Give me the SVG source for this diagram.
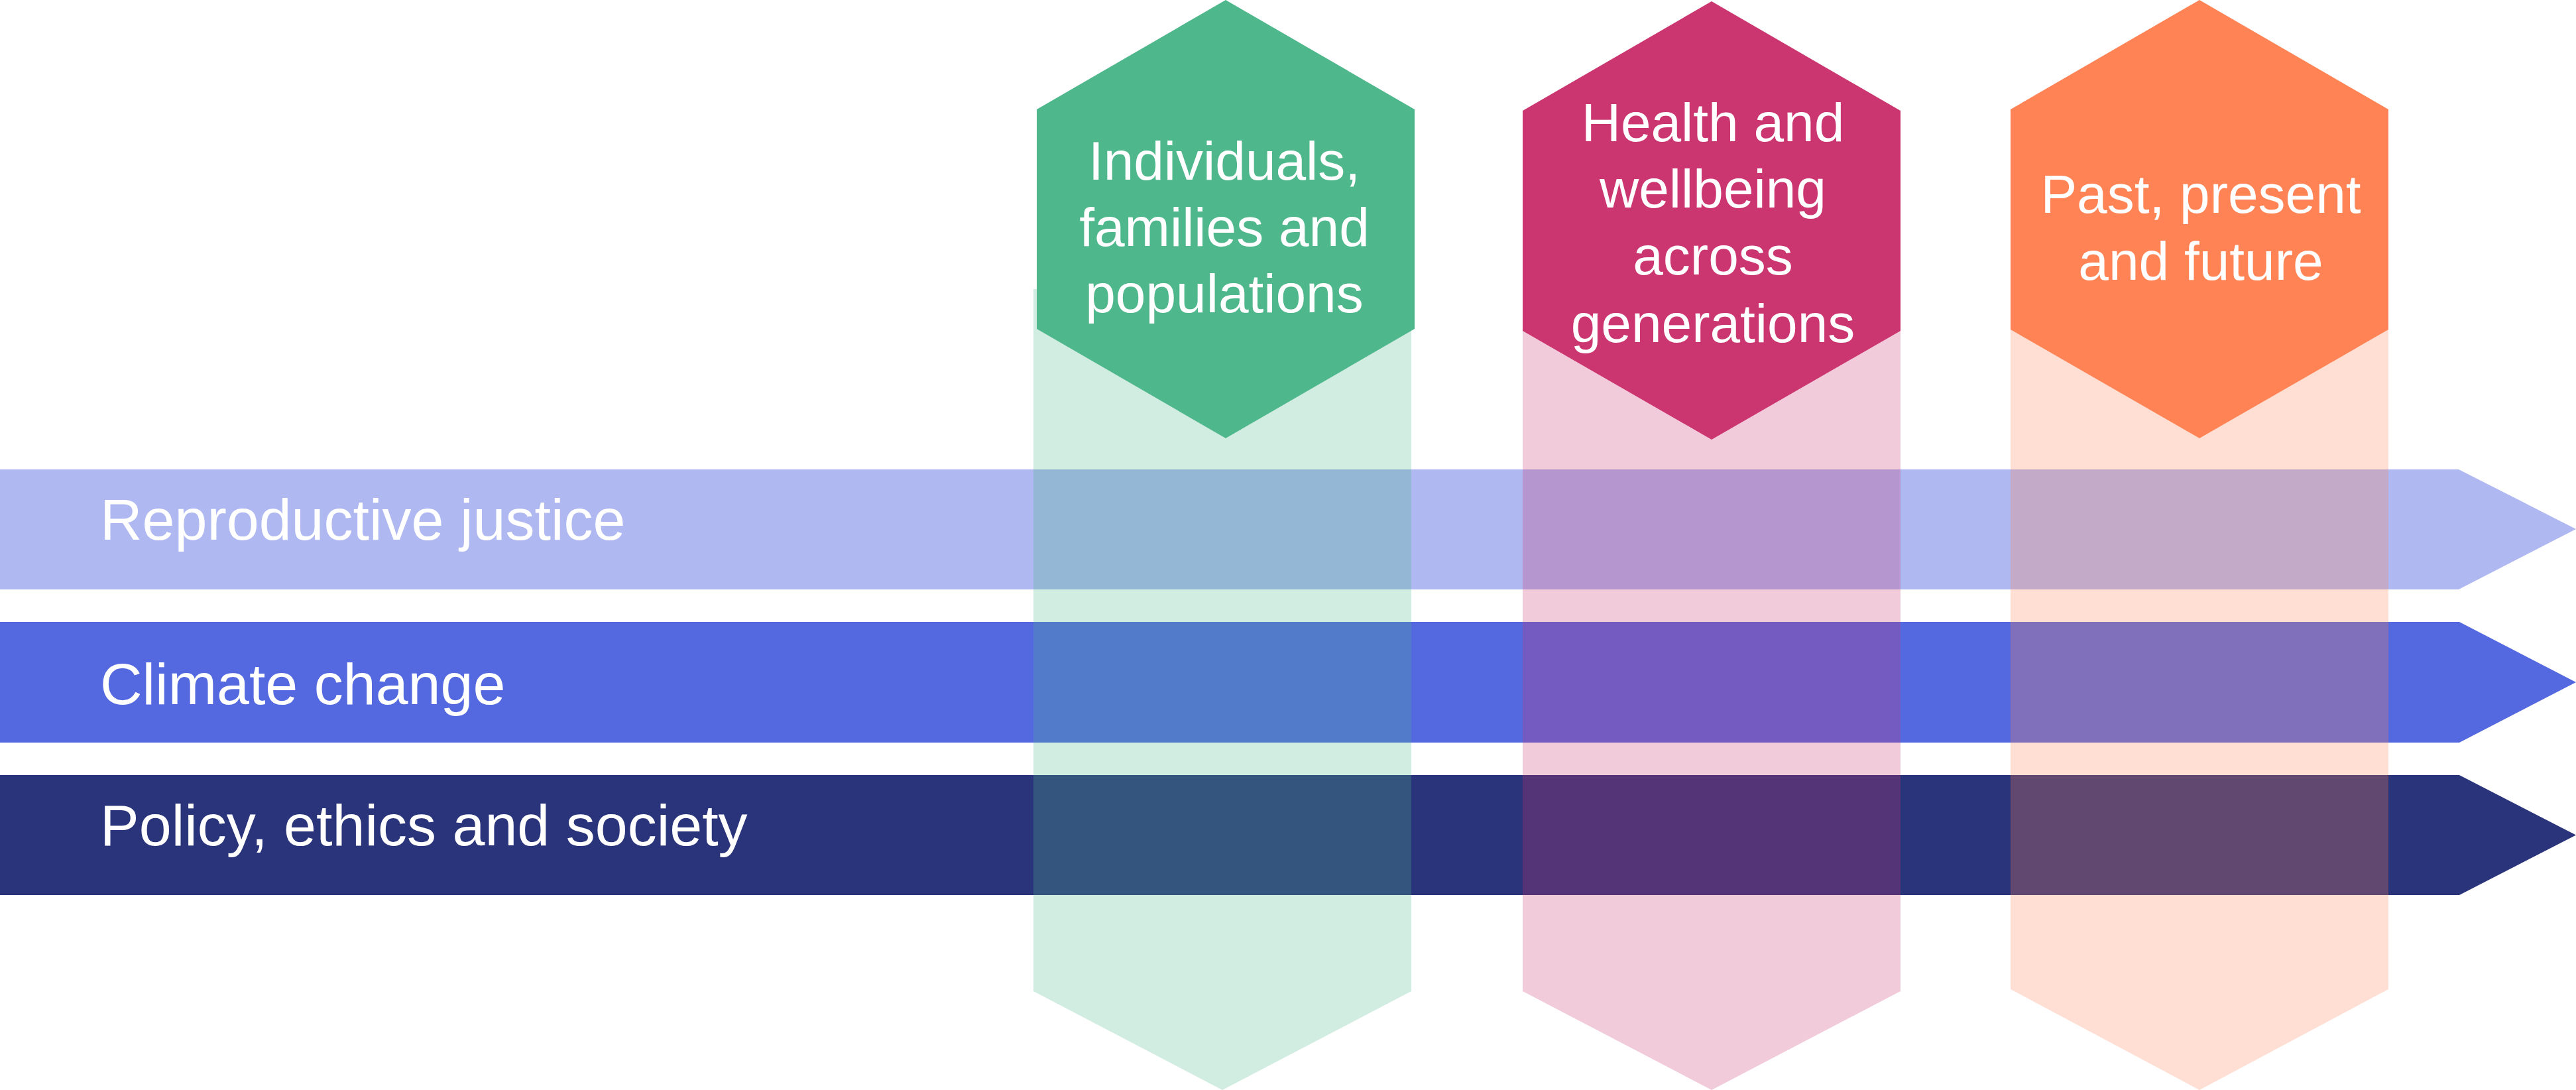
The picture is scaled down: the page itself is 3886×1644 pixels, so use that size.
<svg xmlns="http://www.w3.org/2000/svg" width="3886" height="1644" viewBox="0 0 3886 1644">
  <style>
    .bar-label { font-family: "Liberation Sans", Arial, sans-serif; font-size: 88px; fill: #ffffff; }
    .hex-label { font-family: "Liberation Sans", Arial, sans-serif; font-size: 82px; fill: #ffffff; text-anchor: middle; }
    .col { opacity: 0.26; }
  </style>
  <rect width="3886" height="1644" fill="#ffffff"/>

  <g id="themes">
    <g id="bar-reproductive-justice">
      <polygon points="0,708 3709,708 3886,798 3709,889 0,889" fill="#AFB8F0"/>
      <text class="bar-label" x="151" y="814">Reproductive justice</text>
    </g>
    <g id="bar-climate-change">
      <polygon points="0,938 3710,938 3886,1029 3710,1120 0,1120" fill="#5468DF"/>
      <text class="bar-label" x="151" y="1062">Climate change</text>
    </g>
    <g id="bar-policy-ethics-society">
      <polygon points="0,1169 3710,1169 3886,1259.5 3710,1350 0,1350" fill="#2A347A"/>
      <text class="bar-label" x="151" y="1275">Policy, ethics and society</text>
    </g>
  </g>

  <g id="connectors"></g>

  <g id="node-individuals">
    <polygon class="col" points="1559,436 2129,436 2129,1495 1844,1644 1559,1495" fill="#4FB78C"/>
    <polygon points="1849,0 2134,165 2134,496 1849,661 1564,496 1564,165" fill="#4FB78C"/>
    <text class="hex-label" x="1847" y="271">Individuals,</text>
    <text class="hex-label" x="1847" y="371">families and</text>
    <text class="hex-label" x="1847" y="471">populations</text>
  </g>

  <g id="node-health">
    <polygon class="col" points="2297,496 2867,496 2867,1495 2582,1644 2297,1495" fill="#CC3670"/>
    <polygon points="2582,2 2867,167 2867,499 2582,663 2297,499 2297,167" fill="#CC3670"/>
    <text class="hex-label" x="2584" y="213">Health and</text>
    <text class="hex-label" x="2584" y="313">wellbeing</text>
    <text class="hex-label" x="2584" y="414">across</text>
    <text class="hex-label" x="2584" y="516">generations</text>
  </g>

  <g id="node-past-present-future">
    <polygon class="col" points="3033,494 3603,494 3603,1492 3318,1644 3033,1492" fill="#FF8354"/>
    <polygon points="3318,0 3603,165 3603,497 3318,661 3033,497 3033,165" fill="#FF8354"/>
    <text class="hex-label" x="3320" y="321">Past, present</text>
    <text class="hex-label" x="3320" y="422">and future</text>
  </g>
</svg>
